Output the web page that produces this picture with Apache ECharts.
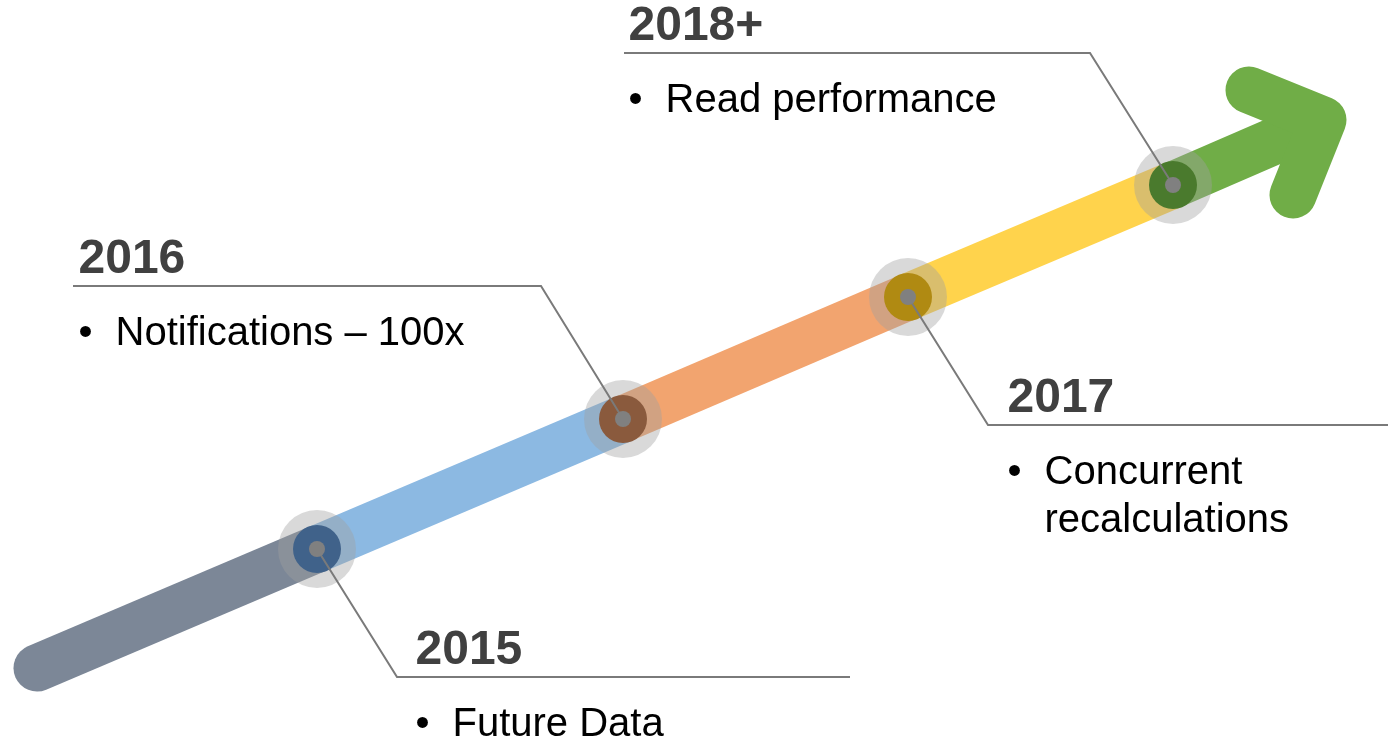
<!DOCTYPE html>
<html>
<head>
<meta charset="utf-8">
<script src="https://cdn.jsdelivr.net/npm/echarts@6/dist/echarts.min.js"></script>
<style>
html,body{margin:0;padding:0;background:#fff;}
#chart{width:1388px;height:741px;}
</style>
</head>
<body>
<div id="chart"></div>
<script>
// ---- data (canvas-pixel coordinates) ----
const years = ['2015', '2016', '2017', '2018+'];
const pathX = [37, 317, 623, 908, 1173, 1323];   // start, milestones, arrow tip
const pathY = [668, 549, 419, 297, 185, 120];
const headX = [1249, 1323, 1293];                // arrow-head chevron
const headY = [90, 120, 195];
const elbowX = [397, 541, 988, 1090];            // leader line elbow
const ruleEndX = [850, 73, 1388, 624];           // far end of underline
const ruleY = [677, 286, 425, 53];
const textX = [416, 79, 1008, 629];
const notes = [['Future Data'], ['Notifications – 100x'], ['Concurrent', 'recalculations'], ['Read performance']];

// ---- styles ----
const segColors = ['#7C8797', '#8CB9E2', '#F2A46F', '#FFD34C', '#70AD47'];
const innerColors = ['#40628A', '#8A5A3D', '#B08A12', '#4A7A2D'];
const FONT = '"Liberation Sans", Arial, sans-serif';
const BAND = 47;

const series = [];
// band segments
for (let i = 0; i < pathX.length - 1; i++) {
  series.push({
    type: 'line', z: 1, silent: true, showSymbol: false, symbol: 'none',
    data: [[pathX[i], pathY[i]], [pathX[i + 1], pathY[i + 1]]],
    lineStyle: { width: BAND, color: segColors[i], cap: i === 0 ? 'round' : 'butt', opacity: 1 }
  });
}
// arrow head
series.push({
  type: 'line', z: 1, silent: true, showSymbol: false, symbol: 'none',
  data: headX.map((x, i) => [x, headY[i]]),
  lineStyle: { width: BAND, color: segColors[4], cap: 'round', join: 'round', opacity: 1 }
});
const nodes = years.map((y, i) => [pathX[i + 1], pathY[i + 1]]);
// halo
series.push({
  type: 'scatter', z: 2, silent: true, symbolSize: 78,
  data: nodes, itemStyle: { color: 'rgba(160,160,160,0.4)', opacity: 1 }
});
// inner circles
series.push({
  type: 'scatter', z: 3, silent: true, symbolSize: 48,
  data: nodes.map((p, i) => ({ value: p, itemStyle: { color: innerColors[i], opacity: 1 } }))
});
// leader lines + underlines
years.forEach((y, i) => {
  series.push({
    type: 'line', z: 4, silent: true, showSymbol: false, symbol: 'none',
    data: [nodes[i], [elbowX[i], ruleY[i]], [ruleEndX[i], ruleY[i]]],
    lineStyle: { width: 2, color: '#7A7A7A', join: 'miter', opacity: 1 }
  });
});
// dots
series.push({
  type: 'scatter', z: 5, silent: true, symbolSize: 16,
  data: nodes, itemStyle: { color: '#808080', opacity: 1 }
});
// year labels
series.push({
  type: 'scatter', z: 6, silent: true, symbolSize: 1,
  data: years.map((y, i) => ({ value: [textX[i], ruleY[i]], name: y })),
  itemStyle: { color: 'transparent', opacity: 1 },
  label: {
    show: true, position: [0, -50], align: 'left', verticalAlign: 'top',
    formatter: p => p.name, opacity: 1,
    fontFamily: FONT, fontSize: 48, lineHeight: 48, fontWeight: 'bold', color: '#404040'
  }
});
// bullet notes
series.push({
  type: 'scatter', z: 6, silent: true, symbolSize: 1,
  data: years.map((y, i) => ({ value: [textX[i], ruleY[i]], name: y })),
  itemStyle: { color: 'transparent', opacity: 1 },
  label: {
    show: true, position: [0, 24], align: 'left', verticalAlign: 'top', opacity: 1,
    formatter: p => notes[p.dataIndex].map((t, j) => (j === 0 ? '{b|•}' : '{s|}') + '{t|' + t + '}').join('\n'),
    rich: {
      b: { width: 37, fontFamily: FONT, fontSize: 40, lineHeight: 48, color: '#000' },
      s: { width: 37, fontFamily: FONT, fontSize: 40, lineHeight: 48 },
      t: { fontFamily: FONT, fontSize: 40, lineHeight: 48, color: '#000' }
    }
  }
});

const chart = echarts.init(document.getElementById('chart'), null, { renderer: 'canvas' });
chart.setOption({
  animation: false,
  backgroundColor: '#ffffff',
  grid: { left: 0, right: 0, top: 0, bottom: 0 },
  xAxis: { type: 'value', min: 0, max: 1388, show: false },
  yAxis: { type: 'value', min: 0, max: 741, inverse: true, show: false },
  series: series
});
</script>
</body>
</html>
